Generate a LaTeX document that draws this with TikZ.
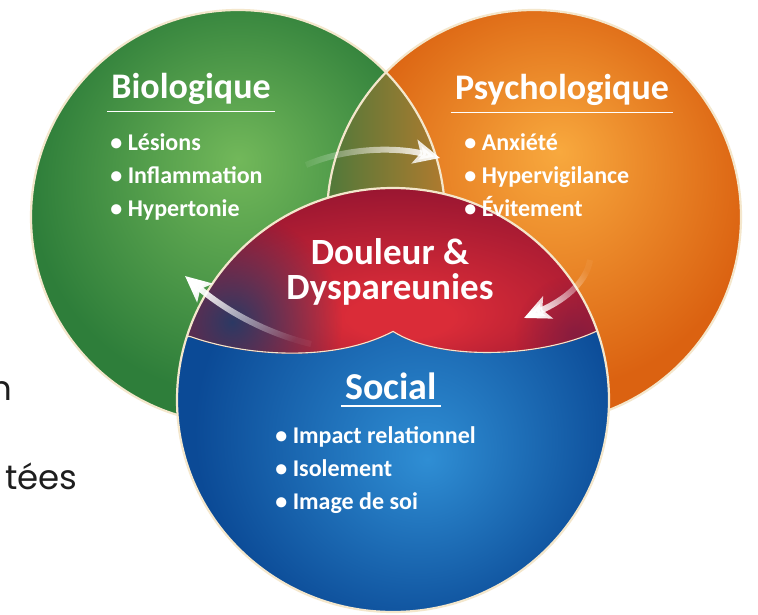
\documentclass[tikz,border=0pt]{standalone}
\usepackage{fontspec}
\setmainfont{Carlito}
\newfontfamily\slidefont{Poppins}
\usetikzlibrary{arrows.meta,positioning,fadings}

\definecolor{greenin}{HTML}{72B85A}
\definecolor{greenout}{HTML}{2E7E3A}
\definecolor{orangein}{HTML}{F8A93E}
\definecolor{orangeout}{HTML}{DB6211}
\definecolor{bluein}{HTML}{2F8ED4}
\definecolor{blueout}{HTML}{0B4A96}
\definecolor{redin}{HTML}{DA2C38}
\definecolor{redout}{HTML}{8E1230}
\definecolor{lensleft}{HTML}{4F793A}
\definecolor{lensmid}{HTML}{7C6B37}
\definecolor{lensright}{HTML}{B27A2E}
\definecolor{navy}{HTML}{1D3C69}
\definecolor{plum}{HTML}{6E1C46}
\definecolor{seam}{HTML}{F4E7CC}
\definecolor{slidegray}{HTML}{1E1E1E}

\pgfdeclareradialshading{greenball}{\pgfpoint{0bp}{7bp}}{color(0bp)=(greenin); color(25bp)=(greenout); color(50bp)=(greenout)}
\pgfdeclareradialshading{orangeball}{\pgfpoint{3bp}{8bp}}{color(0bp)=(orangein); color(25bp)=(orangeout); color(50bp)=(orangeout)}
\pgfdeclareradialshading{blueball}{\pgfpoint{4bp}{-7bp}}{color(0bp)=(bluein); color(25bp)=(blueout); color(50bp)=(blueout)}
\pgfdeclareradialshading{redglow}{\pgfpoint{1bp}{-14bp}}{color(0bp)=(redin); color(6bp)=(redin); color(34bp)=(redout); color(50bp)=(redout)}

\tikzfading[name=spot, inner color=transparent!0, outer color=transparent!100]
\tikzfading[name=tailfade, left color=transparent!95, middle color=transparent!15, right color=transparent!0]

\begin{document}
\begin{tikzpicture}[x=0.5pt,y=-0.5pt,
  title/.style={text=white,font=\fontsize{18}{20}\selectfont\bfseries,inner xsep=2pt,inner ysep=3pt},
  items/.style={text=white,font=\fontsize{12}{16.5}\selectfont\bfseries,align=left,inner sep=0pt},
  uline/.style={white,line width=0.9pt},
  seamline/.style={seam,line width=1.1pt},
  flow/.style={white,line width=3pt,-{Stealth[length=13pt,width=12pt,inset=3pt]}},
  slide/.style={text=slidegray,font=\slidefont\fontsize{17}{20}\selectfont,inner sep=0pt}]
\useasboundingbox (0,0) rectangle (758,614);
\clip (0,0) rectangle (758,614);
\fill[white] (0,0) rectangle (758,614);

\shade[shading=greenball] (238,217) circle [radius=207];
\shade[shading=orangeball] (534,217) circle [radius=207];
\begin{scope}
  \clip (238,217) circle [radius=207];
  \clip (534,217) circle [radius=207];
  \shade[left color=lensleft, middle color=lensmid, right color=lensright] (326,60) rectangle (448,370);
\end{scope}
\draw[seamline] (238,217) circle [radius=207];
\draw[seamline] (534,217) circle [radius=207];

\shade[shading=blueball] (393,400) ellipse [x radius=216, y radius=212];
\begin{scope}
  \clip (393,400) ellipse [x radius=216, y radius=212];
  \clip (170,337) -- (190,337) .. controls (240,355) and (330,365) .. (393,332)
    .. controls (440,362) and (540,358) .. (596,332) -- (620,332) -- (620,170) -- (170,170) -- cycle;
  \shade[shading=redglow] (177,185) rectangle (610,362);
  \fill[navy, path fading=spot, opacity=0.9] (232,322) circle [radius=110];
  \fill[plum, path fading=spot, opacity=0.6] (575,335) circle [radius=60];
  \draw[seamline] (170,334) -- (190,337) .. controls (240,355) and (330,365) .. (393,332)
    .. controls (440,362) and (540,358) .. (596,332) -- (620,328);
\end{scope}
\draw[seamline] (393,400) ellipse [x radius=216, y radius=212];

\node[title, anchor=base] (bio) at (191,99) {Biologique};
\draw[uline] (bio.south west) -- (bio.south east);
\node[items, anchor=north west] (biolist) at (110,133) {• Lésions\\• Inflammation\\• Hypertonie};

\node[title, anchor=base] (psy) at (562,100) {Psychologique};
\draw[uline] (psy.south west) -- (psy.south east);
\node[items, anchor=north west] (psylist) at (464,133) {• Anxiété\\• Hypervigilance\\• Évitement};

\node[title, font=\fontsize{19}{21}\selectfont\bfseries, anchor=base] (soc) at (391,399) {Social};
\draw[uline] (soc.south west) -- (soc.south east);
\node[items, anchor=north west] (soclist) at (275,426) {• Impact relationnel\\• Isolement\\• Image de soi};

\node[text=white, font=\fontsize{18.5}{17.5}\selectfont\bfseries, align=center] (pain) at (390,272) {Douleur \&\\Dyspareunies};

\coordinate (bioTail) at (306,165);
\coordinate (psyTip) at (440,158);
\coordinate (psyTail) at (590,260);
\coordinate (painTip) at (524,318);
\coordinate (painTail) at (311,344);
\coordinate (bioTip) at (185,276);
\draw[flow, path fading=tailfade] (bioTail) .. controls (350,146) and (400,148) .. (psyTip);
\draw[flow, path fading=tailfade, fading angle=221] (psyTail) .. controls (586,285) and (560,302) .. (painTip);
\draw[flow, path fading=tailfade, fading angle=152] (painTail) .. controls (265,333) and (225,310) .. (bioTip);

\node[slide, anchor=base east] (cutn) at (13,400) {n};
\node[slide, anchor=base east] (cuttees) at (78,489) {tées};
\end{tikzpicture}
\end{document}
